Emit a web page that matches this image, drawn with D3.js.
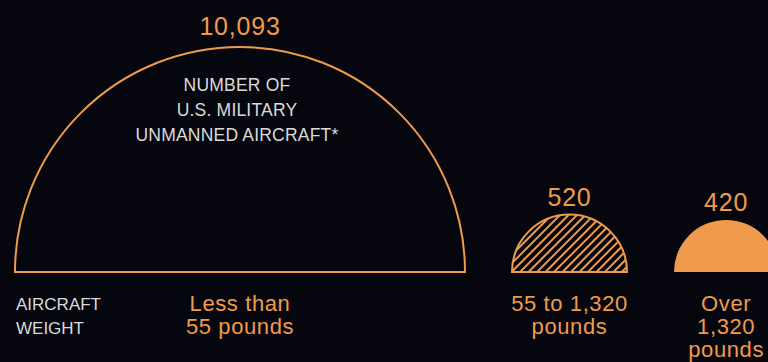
<!DOCTYPE html>
<html>
<head>
<meta charset="utf-8">
<script src="https://cdn.jsdelivr.net/npm/d3@7"></script>
<style>
  html, body { margin: 0; padding: 0; background: #06070e; }
  svg { display: block; }
  text { font-family: "Liberation Sans", Arial, Helvetica, sans-serif; }
</style>
</head>
<body>
<div id="chart"></div>
<script>
// data
var counts = [10093, 520, 420];
var valueLabels = ["10,093", "520", "420"];
var weightLabels = [
    ["Less than", "55 pounds"],
    ["55 to 1,320", "pounds"],
    ["Over", "1,320", "pounds"]
];
var titleLines = ["NUMBER OF", "U.S. MILITARY", "UNMANNED AIRCRAFT*"];
var axisLines = ["AIRCRAFT", "WEIGHT"];

var width = 768, height = 362;
var orange = "#f09a4c";
var baseY = 272, left = 15, gap = 47;

var svg = d3.select("#chart").append("svg")
    .attr("width", width)
    .attr("height", height);

svg.append("rect")
    .attr("width", width)
    .attr("height", height)
    .attr("fill", "#06070e");

// hatch pattern for the middle group
var defs = svg.append("defs");
var pat = defs.append("pattern")
    .attr("id", "hatch")
    .attr("patternUnits", "userSpaceOnUse")
    .attr("width", 6)
    .attr("height", 6)
    .attr("patternTransform", "rotate(45)");
pat.append("rect")
    .attr("width", 6).attr("height", 6)
    .attr("fill", "#06070e");
pat.append("line")
    .attr("x1", 0).attr("y1", 0)
    .attr("x2", 0).attr("y2", 6)
    .attr("stroke", orange)
    .attr("stroke-width", 4);

var rScale = d3.scalePow()
    .exponent(0.46)
    .domain([0, d3.max(counts)])
    .range([0, 225]);

// pack the half circles from left to right
var centers = [];
var x = left;
counts.forEach(function(d, i) {
    var r = rScale(d);
    centers.push(x + r);
    x += 2 * r + gap;
});

var arc = d3.arc()
    .innerRadius(0)
    .startAngle(-Math.PI / 2)
    .endAngle(Math.PI / 2);

var groups = svg.selectAll("g.drone")
    .data(counts)
    .enter().append("g")
    .attr("class", "drone")
    .attr("transform", (d, i) => "translate(" + centers[i] + "," + baseY + ")");

groups.append("path")
    .attr("d", d => arc.outerRadius(rScale(d))())
    .attr("fill", (d, i) => i == 0 ? "none" : (i == 1 ? "url(#hatch)" : orange))
    .attr("stroke", orange)
    .attr("stroke-width", (d, i) => i == 2 ? 0 : 2);

groups.append("text")
    .attr("y", d => -rScale(d) - (d > 1000 ? 12 : 9))
    .attr("text-anchor", "middle")
    .attr("fill", orange)
    .style("font-size", "25px")
    .style("letter-spacing", "0.8px")
    .text((d, i) => valueLabels[i]);

groups.each(function(d, i) {
    var t = d3.select(this).append("text")
        .attr("text-anchor", "middle")
        .attr("fill", orange)
        .style("font-size", "22px")
        .style("letter-spacing", "0.6px");
    weightLabels[i].forEach(function(line, j) {
        t.append("tspan")
            .attr("x", 0)
            .attr("y", 39 + j * 23)
            .text(line);
    });
});

// title inside the big half circle
var title = svg.append("text")
    .attr("text-anchor", "middle")
    .attr("fill", "#dadada")
    .style("font-size", "17.5px")
    .style("letter-spacing", "0.2px");
titleLines.forEach(function(line, j) {
    title.append("tspan")
        .attr("x", centers[0] - 3)
        .attr("y", 91 + j * 25)
        .text(line);
});

var axisLabel = svg.append("text")
    .attr("fill", "#dadada")
    .style("font-size", "17px")
    .style("letter-spacing", "0px");
axisLines.forEach(function(line, j) {
    axisLabel.append("tspan")
        .attr("x", 16)
        .attr("y", 310 + j * 24)
        .text(line);
});
</script>
</body>
</html>
